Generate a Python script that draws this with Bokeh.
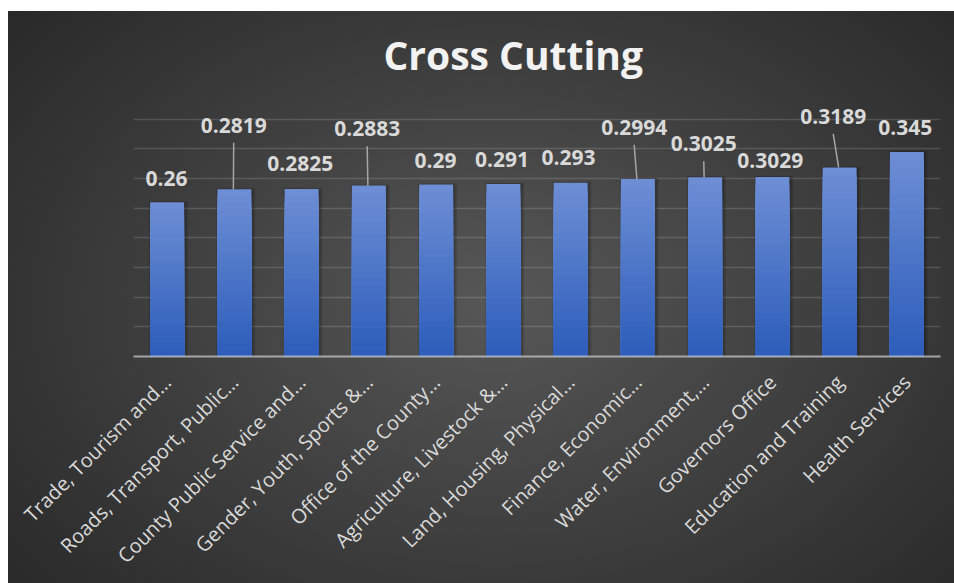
import numpy as np
from bokeh.plotting import figure
from bokeh.models import Range1d, FixedTicker, CustomJSTickFormatter
from bokeh.core.properties import value
from bokeh.embed import file_html
from bokeh.resources import INLINE

# ---------------- data ----------------
categories = [
    "Trade, Tourism and…",
    "Roads, Transport, Public…",
    "County Public Service and…",
    "Gender, Youth, Sports &…",
    "Office of the County…",
    "Agriculture, Livestock &…",
    "Land, Housing, Physical…",
    "Finance, Economic…",
    "Water, Environment,…",
    "Governors Office",
    "Education and Training",
    "Health Services",
]
scores = [0.26, 0.2819, 0.2825, 0.2883, 0.29, 0.291, 0.293, 0.2994, 0.3025, 0.3029, 0.3189, 0.345]
score_labels = ["0.26", "0.2819", "0.2825", "0.2883", "0.29", "0.291", "0.293",
                "0.2994", "0.3025", "0.3029", "0.3189", "0.345"]
grid_ticks = [0.05, 0.10, 0.15, 0.20, 0.25, 0.30, 0.35, 0.40]

# ---------------- label placement (style) ----------------
label_y = [0.301, 0.390, 0.325, 0.384, 0.331, 0.3325, 0.335, 0.3866, 0.3587, 0.3314, 0.405, 0.3866]
label_dx = [-0.01, -0.01, -0.02, -0.025, -0.01, -0.02, -0.03, -0.055, -0.02, -0.03, -0.095, -0.025]
has_leader = [False, True, False, True, False, False, False, True, True, False, True, False]

n = len(categories)
pos = list(range(n))

p = figure(
    width=954, height=583,
    x_range=Range1d(-0.5, n - 0.5),
    y_range=Range1d(0, 0.4537),
    output_backend="svg", toolbar_location=None,
    min_border_left=133, min_border_right=14, min_border_top=87, min_border_bottom=227,
    background_fill_color=None, border_fill_color=None, outline_line_color=None,
)
p.styles = {
    "background": "linear-gradient(#ffffff, #ffffff) top left / 100% 11px no-repeat, "
                  "linear-gradient(#ffffff, #ffffff) top left / 8px 100% no-repeat, "
                  "radial-gradient(ellipse 70% 80% at 52% 52%, #575757 0%, #414141 45%, #272727 100%)"
}

# title
p.title.text = "Cross Cutting"
p.title.text_font = "Open Sans"
p.title.text_font_size = "39px"
p.title.text_font_style = "bold"
p.title.text_color = "#f2f2f2"
p.title.align = "left"
p.title.offset = 250
p.title.standoff = 13

# axes / grid
p.yaxis.visible = False
p.xgrid.visible = False
p.ygrid.ticker = FixedTicker(ticks=grid_ticks)
p.ygrid.grid_line_color = "#ffffff"
p.ygrid.grid_line_alpha = 0.14
p.ygrid.grid_line_width = 1.5

ax = p.xaxis[0]
ax.ticker = FixedTicker(ticks=pos)
ax.formatter = CustomJSTickFormatter(args=dict(labels=categories),
                                     code="return labels[Math.round(tick)];")
ax.major_label_orientation = np.pi / 4
ax.major_label_text_font = "Open Sans"
ax.major_label_text_font_size = "20px"
ax.major_label_text_color = "#d9d9d9"
ax.major_label_standoff = 16
ax.axis_line_color = "#c8c8c8"
ax.axis_line_alpha = 0.75
ax.axis_line_width = 2
ax.major_tick_line_color = None
ax.minor_tick_line_color = None

# bar shadows
p.vbar(x=[i + 0.02 for i in pos], top=[v + 0.002 for v in scores], bottom=0, width=0.58,
       fill_color="black", fill_alpha=0.12, line_color=None)
p.vbar(x=[i + 0.015 for i in pos], top=[v + 0.001 for v in scores], bottom=0, width=0.54,
       fill_color="black", fill_alpha=0.15, line_color=None)

# gradient bars (light at top, dark at bottom), drawn as nested layers
top_rgb = np.array([0x6d, 0x8d, 0xd4])
bot_rgb = np.array([0x2d, 0x5e, 0xbb])
N = 24
for k in range(N):
    t = k / (N - 1)
    c = (top_rgb * (1 - t) + bot_rgb * t).round().astype(int)
    col = "#%02x%02x%02x" % tuple(c)
    p.vbar(x=pos, top=[v * (1 - k / N) for v in scores], width=0.505,
           fill_color=col, line_color=None)

# leader lines
lx0, ly0, lx1, ly1 = [], [], [], []
for i in range(n):
    if has_leader[i]:
        lx0.append(i + label_dx[i]); ly0.append(label_y[i] - 0.0295)
        lx1.append(i - 0.015); ly1.append(scores[i])
p.segment(x0=lx0, y0=ly0, x1=lx1, y1=ly1, line_color="#a6a6a6", line_width=1.5)

# data labels
p.text(x=[i + label_dx[i] for i in range(n)], y=label_y, text=score_labels,
       text_font=value("Open Sans"), text_font_style="bold",
       text_font_size="21px", text_color="#d9d9d9", text_align="center",
       text_baseline="middle")

open("out.html", "w").write(file_html(p, INLINE))
